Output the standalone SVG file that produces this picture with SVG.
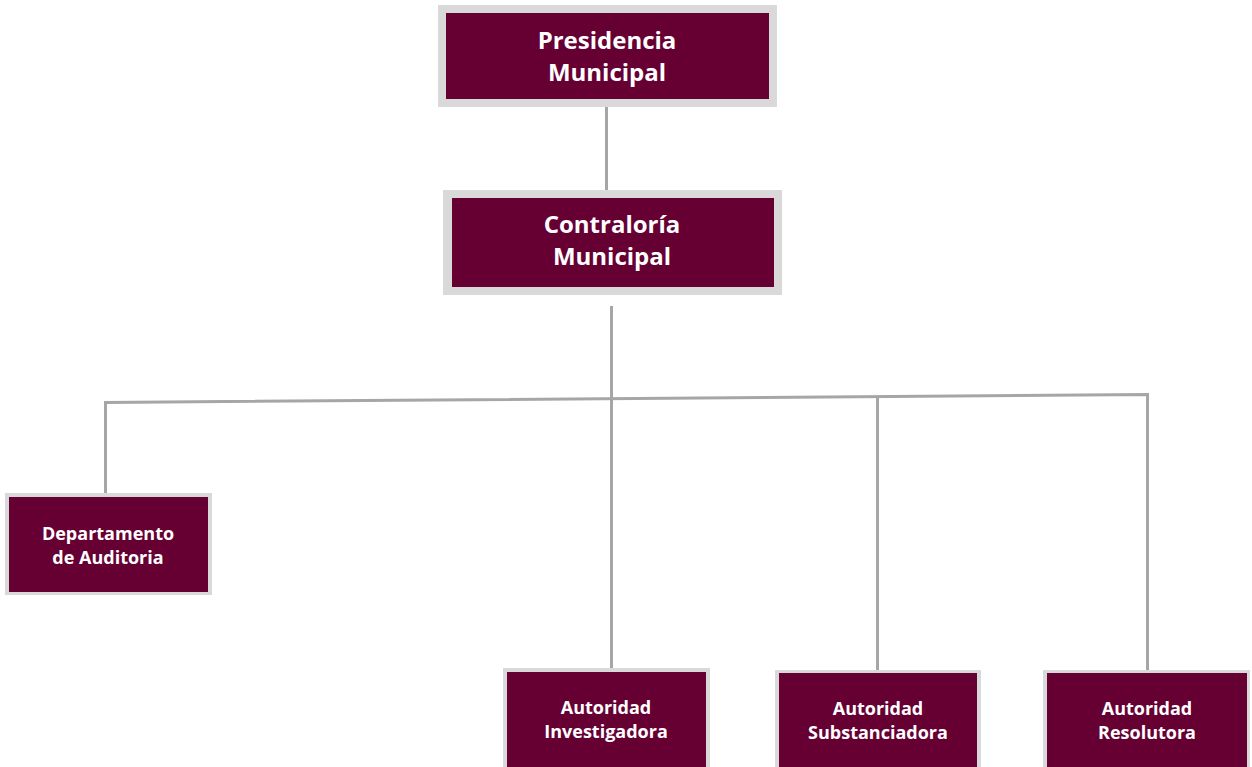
<svg xmlns="http://www.w3.org/2000/svg" width="1252" height="767" viewBox="0 0 1252 767">
  <style>
    .frame { fill: #d9d9d9; }
    .box { fill: #660033; }
    .label { font-family: "Open Sans", "Liberation Sans", sans-serif; font-weight: 700; fill: #ffffff; text-anchor: middle; }
    .big { font-size: 24px; }
    .small { font-size: 18px; }
    .link { stroke: #a6a6a6; stroke-width: 3; fill: none; stroke-linecap: butt; }
  </style>
  <rect width="1252" height="767" fill="#ffffff"/>

  <!-- reporting lines -->
  <g id="connectors">
    <line class="link" x1="606.5" y1="97" x2="606.5" y2="198"/>
    <line class="link" x1="611.5" y1="306" x2="611.5" y2="669"/>
    <polyline class="link" points="105.5,494 105.5,402.5 1147.5,394.5 1147.5,671"/>
    <line class="link" x1="877.5" y1="396.5" x2="877.5" y2="671"/>
  </g>

  <g id="presidencia">
    <rect class="frame" x="438" y="5" width="339" height="102"/>
    <rect class="box" x="446" y="13" width="323" height="86"/>
    <text class="label big" x="607" y="49">Presidencia</text>
    <text class="label big" x="607" y="81">Municipal</text>
  </g>

  <g id="contraloria">
    <rect class="frame" x="443" y="190" width="339" height="105"/>
    <rect class="box" x="452" y="198" width="322" height="89"/>
    <text class="label big" x="612" y="233">Contraloría</text>
    <text class="label big" x="612" y="265">Municipal</text>
  </g>

  <g id="auditoria">
    <rect class="frame" x="5" y="493" width="207" height="102"/>
    <rect class="box" x="9" y="497" width="199" height="95"/>
    <text class="label small" x="108" y="540">Departamento</text>
    <text class="label small" x="108" y="564">de Auditoria</text>
  </g>

  <g id="investigadora">
    <rect class="frame" x="503" y="668" width="207" height="99"/>
    <rect class="box" x="507" y="672" width="199" height="95"/>
    <text class="label small" x="606" y="714">Autoridad</text>
    <text class="label small" x="606" y="738">Investigadora</text>
  </g>

  <g id="substanciadora">
    <rect class="frame" x="775" y="670" width="206" height="97"/>
    <rect class="box" x="779" y="673" width="198" height="94"/>
    <text class="label small" x="878" y="715">Autoridad</text>
    <text class="label small" x="878" y="739">Substanciadora</text>
  </g>

  <g id="resolutora">
    <rect class="frame" x="1043" y="670" width="207" height="97"/>
    <rect class="box" x="1047" y="673" width="200" height="94"/>
    <text class="label small" x="1147" y="715">Autoridad</text>
    <text class="label small" x="1147" y="739">Resolutora</text>
  </g>
</svg>
